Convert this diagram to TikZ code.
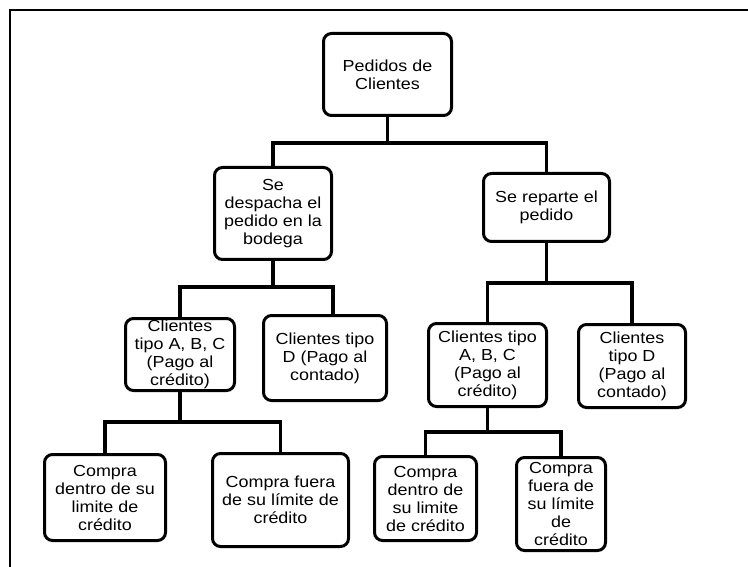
\documentclass[tikz,border=0pt]{standalone}
\usepackage{fontspec}
\setmainfont{Liberation Sans}[FakeStretch=1.12]
\begin{document}
\begin{tikzpicture}[x=1pt,y=1pt,
  box/.style={draw=black, line width=3pt, rounded corners=8pt, align=center,
    inner sep=0pt, font=\fontsize{16}{18}\selectfont},
  conn/.style={draw=black, line width=3.2pt}]
\useasboundingbox (0,0) rectangle (748,-567);
\draw[line width=1.2pt] (10,-567) -- (10,-10) -- (748,-10);
% nodes
\node[box, minimum width=128pt, minimum height=82pt] (root) at (387.5,-74.5) {Pedidos de\\Clientes};
\node[box, minimum width=117pt, minimum height=92pt] (l1a) at (273,-213.5) {Se\\despacha el\\pedido en la\\bodega};
\node[box, minimum width=126pt, minimum height=68pt] (l1b) at (546.5,-207.5) {Se reparte el\\pedido};
\node[box, minimum width=109pt, minimum height=72pt] (l2a) at (180,-354.5) {Clientes\\tipo A, B, C\\(Pago al\\crédito)};
\node[box, minimum width=123pt, minimum height=85pt] (l2b) at (325,-358) {Clientes tipo\\D (Pago al\\contado)};
\node[box, minimum width=118pt, minimum height=83pt] (l2c) at (487.5,-365) {Clientes tipo\\A, B, C\\(Pago al\\crédito)};
\node[box, minimum width=107pt, minimum height=83pt] (l2d) at (632,-366) {Clientes\\tipo D\\(Pago al\\contado)};
\node[box, minimum width=121pt, minimum height=86pt] (l3a) at (105,-497.5) {Compra\\dentro de su\\limite de\\crédito};
\node[box, minimum width=136pt, minimum height=93pt] (l3b) at (280.5,-500) {Compra fuera\\de su límite de\\crédito};
\node[box, minimum width=102pt, minimum height=84pt] (l3c) at (425.5,-498.5) {Compra\\dentro de\\su limite\\de crédito};
\node[box, minimum width=89pt, minimum height=93pt] (l3d) at (561,-504) {Compra\\fuera de\\su límite\\de\\crédito};
% junction levels
\coordinate (j0) at (388,-143);
\coordinate (j1) at (273,-287);
\coordinate (j2) at (547,-283);
\coordinate (j3) at (180,-422);
\coordinate (j4) at (487,-432);
% connectors
\draw[conn] (root.south) -- (root.south |- j0);
\draw[conn] (l1a.north) |- (j0) -| (l1b.north);
\draw[conn] (l1a.south) -- (j1);
\draw[conn] (l2a.north) |- (j1) -| ([xshift=8pt]l2b.north);
\draw[conn] (l1b.south) -- (l1b.south |- j2);
\draw[conn] (l2c.north) |- (j2) -| (l2d.north);
\draw[conn] (l2a.south) -- (j3);
\draw[conn] (l3a.north) |- (j3) -| (l3b.north);
\draw[conn] (l2c.south) -- (l2c.south |- j4);
\draw[conn] (l3c.north) |- (j4) -| (l3d.north);
\end{tikzpicture}
\end{document}
